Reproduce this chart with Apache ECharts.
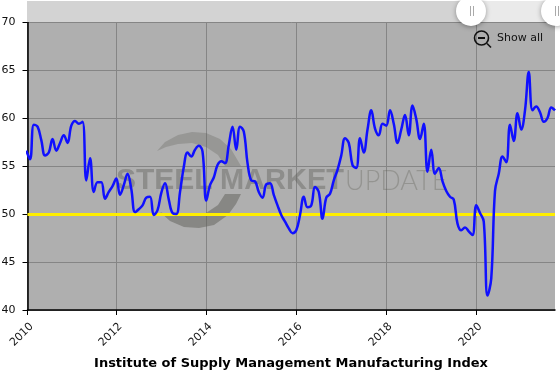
<!DOCTYPE html>
<html><head><meta charset="utf-8">
<style>html,body{margin:0;padding:0;background:#fff}#c{width:560px;height:372px}</style>
<script src="https://cdn.jsdelivr.net/npm/echarts@6/dist/echarts.min.js"></script>
</head><body><div id="c"></div>
<script>
const titleText = 'Institute of Supply Management Manufacturing Index';
const startYear = 2010;
const tickYears = [2010,2012,2014,2016,2018,2020];
const threshold = 50;
const v2010 = [56.6,55.7,59.3,59.1,57.7,56.1,56.4,57.8,56.6,57.4,58.2,57.4];
const v2011 = [59.2,59.7,59.4,59.6,53.5,55.8,52.3,53.3,53.3,51.6,52.3,52.9];
const v2012 = [53.7,52.0,53.0,54.2,52.6,50.2,50.5,50.9,51.7,51.8,49.9,50.4];
const v2013 = [52.2,53.2,51.5,50.1,50.0,52.3,54.9,56.4,56.0,56.7,57.1,56.5];
const v2014 = [51.4,53.0,53.8,55.1,55.5,55.3,57.2,59.1,56.7,59.1,58.6,55.3];
const v2015 = [53.5,53.4,52.3,51.7,53.1,53.2,52.0,50.9,49.9,49.2,48.5,48.0];
const v2016 = [48.3,49.9,51.8,50.7,50.9,52.8,52.3,49.5,51.7,52.1,53.5,54.6];
const v2017 = [56.1,57.9,57.4,55.1,54.8,57.9,56.4,58.8,60.8,58.9,58.2,59.4];
const v2018 = [59.2,60.8,59.4,57.4,58.8,60.3,58.2,61.3,59.9,57.8,59.4,54.4];
const v2019 = [56.7,54.2,54.8,53.4,52.4,51.8,51.5,49.0,48.3,48.6,48.2,47.8];
const v2020 = [50.9,50.1,49.2,41.5,43.3,52.4,54.2,56.0,55.4,59.3,57.6,60.5];
const v2021 = [58.8,60.8,64.8,60.8,61.2,60.6,59.6,60.0,61.1,60.8];
const values = [].concat(v2010,v2011,v2012,v2013,v2014,v2015,v2016,v2017,v2018,v2019,v2020,v2021);
// x is months since January of the first year
const points = values.map((v,i)=>[i,v]);
const axisStart = 0.32;
const axisEnd = points.length-1;
const tickValues = tickYears.map(y=> y===startYear ? axisStart : (y-startYear)*12);
const FONT = '"DejaVu Sans"';
const chart = echarts.init(document.getElementById('c'),null,{renderer:'canvas'});
const wm = 'rgba(96,96,90,';
chart.setOption({
  animation:false,
  backgroundColor:'#fff',
  title:{text:titleText,left:286,top:352,textAlign:'center',
    textStyle:{fontFamily:FONT,fontSize:13,fontWeight:'bold',color:'#000'}},
  grid:{left:27.5,right:5,top:22,bottom:62,show:true,backgroundColor:'#AFAFAF',borderWidth:0,outerBoundsMode:'none'},
  xAxis:{type:'value',min:axisStart,max:axisEnd,
    axisLine:{show:true,onZero:false,lineStyle:{color:'#000',width:1.5}},
    axisTick:{show:true,length:5,lineStyle:{color:'#000'},customValues:tickValues},
    axisLabel:{show:true,rotate:45,margin:19,fontFamily:FONT,fontSize:11,color:'#1a1a1a',
      align:'center',verticalAlign:'middle',padding:[0,16,0,0],
      customValues:tickValues,hideOverlap:false,showMinLabel:true,
      formatter:v=>String(startYear+Math.floor(v/12))},
    splitLine:{show:true,lineStyle:{color:'#858585',width:1}}},
  yAxis:{type:'value',min:40,max:70,interval:5,
    axisLine:{show:true,lineStyle:{color:'#000',width:1.5}},
    axisTick:{show:true,length:5,lineStyle:{color:'#000'}},
    axisLabel:{margin:12,fontFamily:FONT,fontSize:11,color:'#111'},
    splitLine:{show:true,lineStyle:{color:'#858585',width:1}}},
  series:[{
    type:'line',data:points,smooth:0.4,showSymbol:false,symbol:'none',z:5,
    lineStyle:{color:'#1010FF',width:2.5},
    markLine:{silent:true,symbol:'none',label:{show:false},animation:false,
      lineStyle:{color:'#FFEE00',width:3,type:'solid'},
      data:[{yAxis:threshold}]}
  }],
  graphic:[
    {type:'rect',z:1,silent:true,shape:{x:27,y:1,width:528,height:21},style:{fill:'#D3D3D3'}},
    {type:'rect',z:1,silent:true,shape:{x:471,y:1,width:84,height:21},style:{fill:'#EAEAEA'}},
    {type:'circle',z:6,silent:true,shape:{cx:471,cy:11,r:15},style:{fill:'#fff',shadowBlur:5,shadowColor:'rgba(0,0,0,0.35)',shadowOffsetY:1}},
    {type:'circle',z:6,silent:true,shape:{cx:556,cy:11,r:15},style:{fill:'#fff',shadowBlur:5,shadowColor:'rgba(0,0,0,0.35)',shadowOffsetY:1}},
    {type:'rect',z:7,silent:true,shape:{x:470,y:6,width:1,height:10},style:{fill:'#aaa'}},
    {type:'rect',z:7,silent:true,shape:{x:473,y:6,width:1,height:10},style:{fill:'#aaa'}},
    {type:'rect',z:7,silent:true,shape:{x:555,y:6,width:1,height:10},style:{fill:'#aaa'}},
    {type:'rect',z:7,silent:true,shape:{x:558,y:6,width:1,height:10},style:{fill:'#aaa'}},
    {type:'polygon',z:1,silent:true,shape:{points:[[157,151],[165,142],[178,135],[192,132],[206,133],[220,139],[231,149],[241,166],[225,166],[218,155],[206,147],[192,143],[178,144],[166,147]]},style:{fill:wm+'0.3)'}},
    {type:'polygon',z:1,silent:true,shape:{points:[[160,212],[170,221],[184,227],[199,228],[214,225],[228,215],[236,204],[241,194],[225,194],[218,205],[206,213],[192,216],[178,216],[168,215]]},style:{fill:wm+'0.5)'}},
    {type:'text',z:1,silent:true,style:{x:116,y:181,text:'STEEL',verticalAlign:'middle',font:'bold 30px "Liberation Sans"',fill:wm+'0.42)'}},
    {type:'text',z:1,silent:true,style:{x:220,y:181,text:'MARKET',verticalAlign:'middle',font:'bold 29px "Liberation Sans"',fill:wm+'0.42)'}},
    {type:'text',z:1,silent:true,style:{x:345,y:181,text:'UPDATE',verticalAlign:'middle',font:'300 27px Lato',fill:wm+'0.35)'}},
    {type:'circle',z:7,silent:true,shape:{cx:481.5,cy:38,r:7},style:{fill:'none',stroke:'#111',lineWidth:1.6}},
    {type:'rect',z:7,silent:true,shape:{x:478,y:37,width:7,height:2},style:{fill:'#111'}},
    {type:'line',z:7,silent:true,shape:{x1:487,y1:43.5,x2:491,y2:47.5},style:{stroke:'#111',lineWidth:1.6}},
    {type:'text',z:7,silent:true,style:{x:497,y:38,text:'Show all',verticalAlign:'middle',font:'11px "DejaVu Sans"',fill:'#111'}}
  ]
});
</script></body></html>
